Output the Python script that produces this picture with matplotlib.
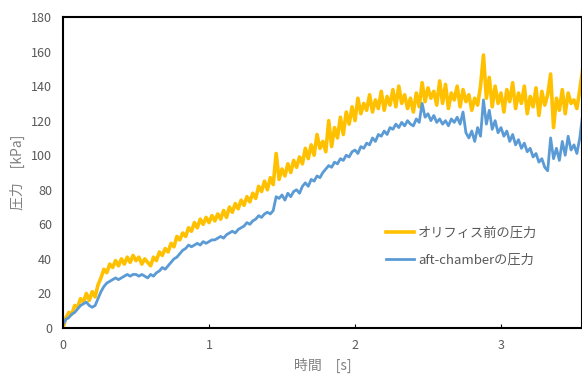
import matplotlib
matplotlib.use("Agg")
import matplotlib.pyplot as plt
import numpy as np

plt.rcParams['font.family'] = ['Noto Sans CJK JP', 'DejaVu Sans']

dt = 0.02
orifice = [0, 6, 9, 8, 13, 12, 17, 15, 20, 16,
           21, 18, 25, 29, 34, 32, 37, 35, 39, 36,
           40, 37, 41, 38, 42, 39, 41, 37, 40, 38,
           36, 41, 39, 44, 42, 46, 44, 49, 47, 53,
           51, 55, 53, 58, 56, 61, 58, 63, 60, 64,
           61, 65, 62, 66, 63, 68, 64, 70, 67, 72,
           69, 74, 71, 76, 73, 78, 75, 82, 79, 85,
           80, 87, 83, 101, 86, 92, 88, 95, 90, 97,
           93, 99, 95, 104, 98, 106, 100, 112, 104, 108,
           102, 120, 105, 116, 110, 122, 112, 125, 118, 128,
           120, 133, 124, 130, 126, 135, 125, 132, 127, 137,
           126, 134, 129, 138, 128, 140, 130, 135, 127, 133,
           125, 136, 128, 142, 131, 139, 133, 137, 129, 143,
           130, 141, 127, 136, 132, 140, 128, 138, 131, 135,
           126, 133, 129, 140, 158, 133, 145, 128, 140, 130,
           136, 125, 138, 131, 142, 127, 136, 130, 140, 124,
           134, 128, 139, 123, 137, 129, 135, 147, 116, 133,
           126, 138, 124, 136, 130, 132, 127, 138, 150]
aft = [2, 5, 6, 8, 9, 11, 13, 14, 15, 13,
       12, 13, 17, 21, 24, 26, 27, 28, 29, 28,
       29, 30, 31, 30, 31, 31, 30, 31, 30, 29,
       31, 30, 32, 33, 35, 34, 36, 38, 40, 41,
       43, 45, 46, 48, 47, 48, 49, 48, 50, 49,
       50, 51, 51, 52, 53, 52, 54, 55, 56, 55,
       57, 58, 59, 61, 60, 62, 63, 65, 64, 66,
       67, 66, 68, 76, 75, 77, 74, 78, 76, 79,
       80, 78, 82, 84, 82, 86, 85, 88, 87, 90,
       92, 94, 93, 96, 95, 98, 97, 100, 99, 102,
       103, 101, 105, 104, 107, 106, 110, 108, 112, 111,
       114, 112, 116, 115, 118, 116, 119, 117, 120, 118,
       117, 121, 119, 130, 122, 124, 120, 123, 119, 121,
       118, 120, 117, 121, 119, 122, 118, 125, 113, 110,
       114, 108, 116, 111, 132, 118, 126, 115, 120, 113,
       116, 111, 114, 108, 112, 106, 109, 104, 107, 102,
       104, 99, 101, 96, 98, 93, 91, 110, 98, 104,
       97, 108, 100, 111, 103, 106, 101, 110, 124]
t1 = np.arange(len(orifice)) * dt
t2 = np.arange(len(aft)) * dt

fig = plt.figure(figsize=(5.82, 3.77), dpi=100)
ax = fig.add_axes([63/582, 1 - 328/377, 1 - 63/582, (328 - 17)/377])

ax.plot(t1, orifice, color="#FFC000", lw=2.6, label="オリフィス前の圧力")
ax.plot(t2, aft, color="#5B9BD5", lw=2.0, label="aft-chamberの圧力")

ax.set_xlim(0, 3.555)
ax.set_ylim(0, 180)
ax.set_yticks(range(0, 181, 20))
ax.set_xticks([0, 1, 2, 3])
ax.tick_params(axis="y", length=0, labelsize=9, labelcolor="#595959", pad=8)
ax.tick_params(axis="x", direction="in", length=3, labelsize=9, labelcolor="#595959", pad=8)
for s in ax.spines.values():
    s.set_linewidth(1.5)
    s.set_color("black")

ax.set_xlabel("時間　[s]", fontsize=10, color="#808080")
ax.set_ylabel("圧力　[kPa]", fontsize=10, color="#808080")

ax.legend(loc="upper left", bbox_to_anchor=(0.6, 0.363), frameon=False,
          fontsize=9.5, labelcolor="#595959", handlelength=2.1,
          handletextpad=0.3, labelspacing=1.05)

fig.savefig("out.png", dpi=100)
